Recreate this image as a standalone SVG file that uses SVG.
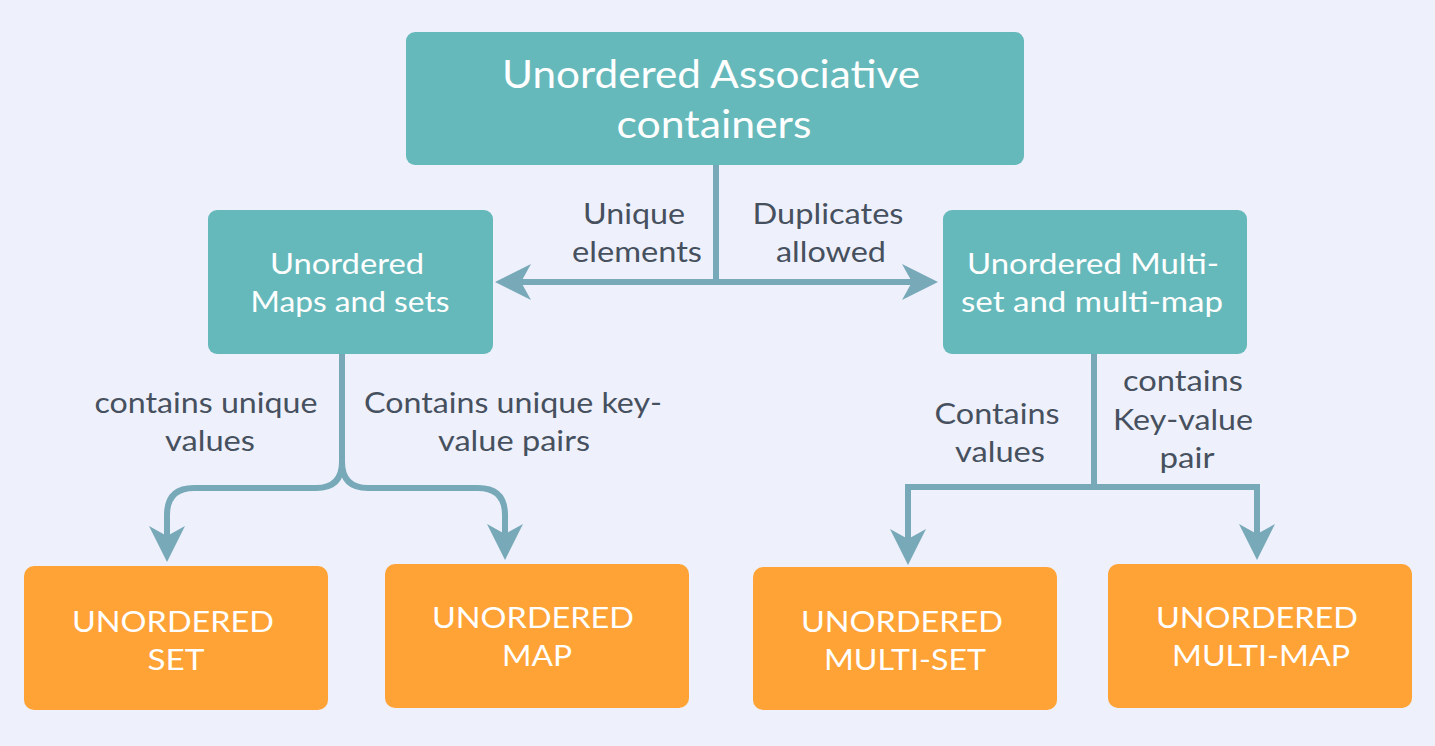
<svg xmlns="http://www.w3.org/2000/svg" width="1435" height="746" viewBox="0 0 1435 746">
<style>
.teal{fill:#66b9bb}
.orange{fill:#ffa336}
.nt{font-family:Lato,"Open Sans",sans-serif;fill:#ffffff;text-anchor:middle}
.lbl{font-family:Lato,"Open Sans",sans-serif;fill:#46505e;font-size:29px;text-anchor:middle}
.con{fill:none;stroke:#78a9b9;stroke-width:6}
</style>
<defs>
<marker id="arr" viewBox="-40 -20 42 40" refX="-20" refY="0" markerWidth="42" markerHeight="40" markerUnits="userSpaceOnUse" orient="auto-start-reverse">
<path d="M0,0 L-36,-18 L-26,0 L-36,18 Z" fill="#78a9b9"/>
</marker>
</defs>
<rect width="1435" height="746" fill="#eef0fb"/>
<g id="connectors">
<path class="con" d="M716,165 V282"/>
<path class="con" d="M515,282 H918" marker-start="url(#arr)" marker-end="url(#arr)"/>
<path class="con" d="M342,354 V462 Q342,488 316,488 H194 Q167,488 167,515 V542" marker-end="url(#arr)"/>
<path class="con" d="M342,462 Q342,488 368,488 H478 Q505,488 505,515 V540" marker-end="url(#arr)"/>
<path class="con" d="M1094,354 V487"/>
<path class="con" d="M908,545 V487 H1257 V540" marker-start="url(#arr)" marker-end="url(#arr)"/>
</g>
<g id="labels">
<text class="lbl" x="634" y="224" textLength="102" lengthAdjust="spacingAndGlyphs">Unique</text>
<text class="lbl" x="637" y="262" textLength="130" lengthAdjust="spacingAndGlyphs">elements</text>
<text class="lbl" x="828" y="224" textLength="151" lengthAdjust="spacingAndGlyphs">Duplicates</text>
<text class="lbl" x="831" y="262" textLength="110" lengthAdjust="spacingAndGlyphs">allowed</text>
<text class="lbl" x="206" y="413" textLength="223" lengthAdjust="spacingAndGlyphs">contains unique</text>
<text class="lbl" x="210" y="451" textLength="90" lengthAdjust="spacingAndGlyphs">values</text>
<text class="lbl" x="513" y="413" textLength="298" lengthAdjust="spacingAndGlyphs">Contains unique key-</text>
<text class="lbl" x="514" y="451" textLength="152" lengthAdjust="spacingAndGlyphs">value pairs</text>
<text class="lbl" x="997" y="424" textLength="125" lengthAdjust="spacingAndGlyphs">Contains</text>
<text class="lbl" x="1000" y="462" textLength="90" lengthAdjust="spacingAndGlyphs">values</text>
<text class="lbl" x="1183" y="391" textLength="120" lengthAdjust="spacingAndGlyphs">contains</text>
<text class="lbl" x="1183" y="430" textLength="140" lengthAdjust="spacingAndGlyphs">Key-value</text>
<text class="lbl" x="1187" y="468" textLength="55" lengthAdjust="spacingAndGlyphs">pair</text>
</g>
<g id="root">
<rect class="teal" x="406" y="32" width="618" height="133" rx="9"/>
<text class="nt" x="711" y="88" font-size="38" textLength="418" lengthAdjust="spacingAndGlyphs">Unordered Associative</text>
<text class="nt" x="714" y="138" font-size="38" textLength="195" lengthAdjust="spacingAndGlyphs">containers</text>
</g>
<g id="maps-sets">
<rect class="teal" x="208" y="210" width="285" height="144" rx="9"/>
<text class="nt" x="347" y="274" font-size="29" textLength="154" lengthAdjust="spacingAndGlyphs">Unordered</text>
<text class="nt" x="350" y="312" font-size="29" textLength="199" lengthAdjust="spacingAndGlyphs">Maps and sets</text>
</g>
<g id="multi">
<rect class="teal" x="943" y="210" width="304" height="144" rx="9"/>
<text class="nt" x="1093" y="274" font-size="29" textLength="252" lengthAdjust="spacingAndGlyphs">Unordered Multi-</text>
<text class="nt" x="1092" y="312" font-size="29" textLength="262" lengthAdjust="spacingAndGlyphs">set and multi-map</text>
</g>
<g id="set">
<rect class="orange" x="24" y="566" width="304" height="144" rx="10"/>
<text class="nt" x="173" y="632" font-size="29" textLength="202" lengthAdjust="spacingAndGlyphs">UNORDERED</text>
<text class="nt" x="176" y="670" font-size="29" textLength="57" lengthAdjust="spacingAndGlyphs">SET</text>
</g>
<g id="map">
<rect class="orange" x="385" y="564" width="304" height="144" rx="10"/>
<text class="nt" x="533" y="628" font-size="29" textLength="202" lengthAdjust="spacingAndGlyphs">UNORDERED</text>
<text class="nt" x="537" y="666" font-size="29" textLength="70" lengthAdjust="spacingAndGlyphs">MAP</text>
</g>
<g id="multiset">
<rect class="orange" x="753" y="567" width="304" height="143" rx="10"/>
<text class="nt" x="902" y="632" font-size="29" textLength="202" lengthAdjust="spacingAndGlyphs">UNORDERED</text>
<text class="nt" x="905" y="670" font-size="29" textLength="162" lengthAdjust="spacingAndGlyphs">MULTI-SET</text>
</g>
<g id="multimap">
<rect class="orange" x="1108" y="564" width="304" height="144" rx="10"/>
<text class="nt" x="1257" y="628" font-size="29" textLength="202" lengthAdjust="spacingAndGlyphs">UNORDERED</text>
<text class="nt" x="1261" y="666" font-size="29" textLength="178" lengthAdjust="spacingAndGlyphs">MULTI-MAP</text>
</g>
</svg>
